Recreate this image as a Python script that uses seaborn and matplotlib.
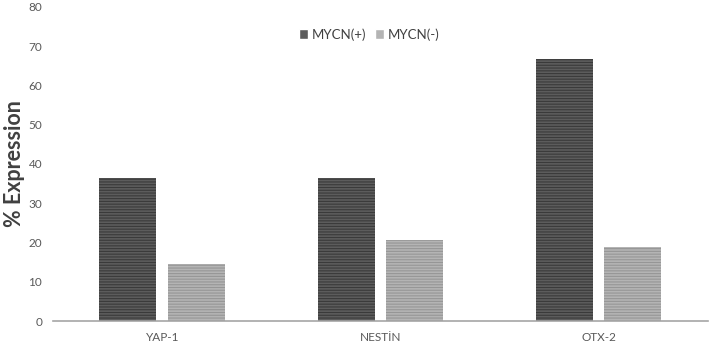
import matplotlib
matplotlib.use("Agg")
import matplotlib.pyplot as plt
import seaborn as sns
import pandas as pd

categories = ["YAP-1", "NESTİN", "OTX-2"]
series = ["MYCN(+)", "MYCN(-)"]
mycn_pos = [36.4, 36.4, 66.8]
mycn_neg = [14.5, 20.6, 18.8]

df = pd.DataFrame({
    "cat": categories * 2,
    "grp": [series[0]] * 3 + [series[1]] * 3,
    "val": mycn_pos + mycn_neg,
})

sns.set_style("white")
plt.rcParams['font.family'] = ['Lato', 'DejaVu Sans']
plt.rcParams['hatch.linewidth'] = 0.8

fig = plt.figure(figsize=(7.09, 3.42), dpi=100)
ax = fig.add_axes([0.075, 0.061, 0.923, 0.919])

face = {"MYCN(+)": "#5c5c5c", "MYCN(-)": "#b4b4b4"}
hatchc = {"MYCN(+)": "#3a3a3a", "MYCN(-)": "#969696"}
sns.barplot(data=df, x="cat", y="val", hue="grp", palette=face, width=0.63,
            gap=0.17, ax=ax, saturation=1)

for cont, s in zip(ax.containers, series):
    for b in cont:
        b.set_hatch("------")
        b.set_edgecolor(hatchc[s])
        b.set_linewidth(0)

ax.set_ylim(0, 80)
ax.set_yticks(range(0, 81, 10))
ax.set_xlim(-0.5, 2.5)
for sp in ["top", "right", "left"]:
    ax.spines[sp].set_visible(False)
ax.spines["bottom"].set_color("#a6a6a6")
ax.spines["bottom"].set_linewidth(1.2)
ax.tick_params(axis="both", length=0, labelsize=8.5, colors="#595959", pad=8)
ax.set_xlabel("")
ax.set_ylabel("% Expression", fontsize=15.5, fontweight="bold", color="#404040")
ax.yaxis.set_label_coords(-0.043, 0.5)

handles, labels = ax.get_legend_handles_labels()
for h, s in zip(handles, series):
    h.set_hatch("")
leg = ax.legend(handles, labels, loc="upper center", bbox_to_anchor=(0.483, 0.97), ncol=2,
                frameon=False, fontsize=9.5, handlelength=0.7, handleheight=0.7,
                handletextpad=0.3, columnspacing=0.6)
for t in leg.get_texts():
    t.set_color("#404040")

fig.savefig("out.png", dpi=100)
